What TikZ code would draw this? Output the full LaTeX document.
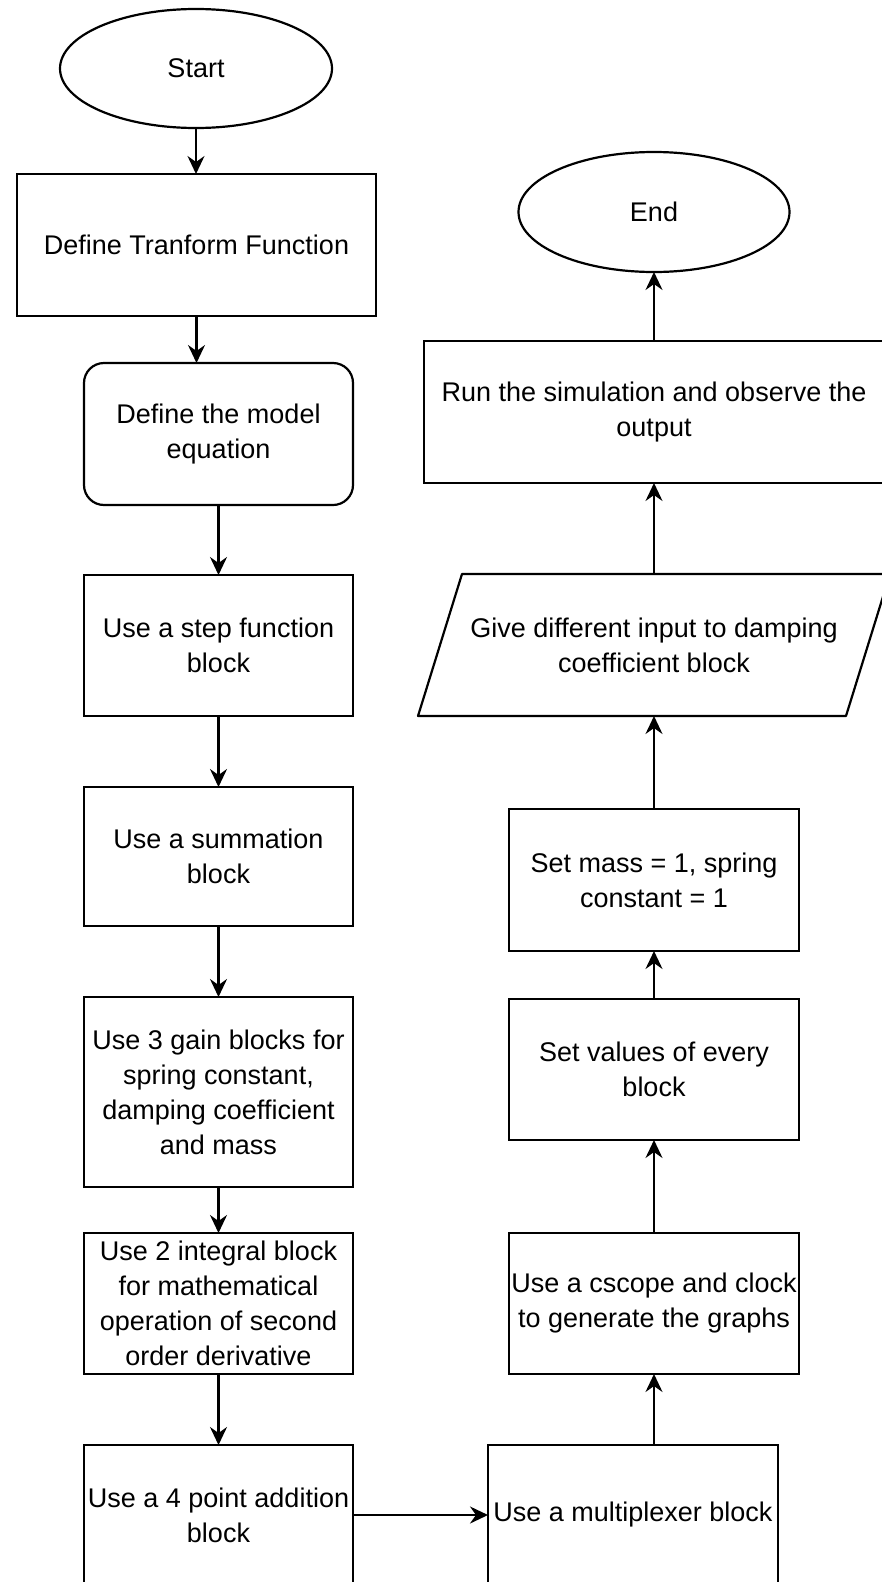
\documentclass[tikz,border=0pt]{standalone}
\usepackage{fontspec}
\setmainfont{Liberation Sans}
\usetikzlibrary{shapes.geometric,arrows.meta,calc}
\begin{document}
\begin{tikzpicture}[x=1pt,y=-1pt,
  every node/.style={font=\fontsize{27}{35}\selectfont, align=center, inner sep=0pt, outer sep=0pt},
  box/.style={draw, line width=2.2pt, rectangle},
  rbox/.style={draw, line width=2.2pt, rectangle, rounded corners=20pt},
  oval/.style={draw, line width=2.2pt, ellipse},
  arr/.style={line width=2.2pt, -{Stealth[length=18pt,width=17pt,inset=6pt]}}
]
\clip (0,0) rectangle (882,1582);
\fill[white] (0,0) rectangle (882,1582);

% left column
\node[oval, minimum width=272pt, minimum height=119pt] (start) at (196,68.5) {Start};
\node[box, minimum width=359pt, minimum height=142pt] (def) at (196.5,245) {Define Tranform Function};
\node[rbox, minimum width=269pt, minimum height=142pt] (model) at (218.5,434) {Define the model\\equation};
\node[box, minimum width=269pt, minimum height=141pt] (stepb) at (218.5,645.5) {Use a step function\\block};
\node[box, minimum width=269pt, minimum height=139pt] (sum) at (218.5,856.5) {Use a summation\\block};
\node[box, minimum width=269pt, minimum height=190pt] (gain) at (218.5,1092) {Use 3 gain blocks for\\spring constant,\\damping coefficient\\and mass};
\node[box, minimum width=269pt, minimum height=141pt] (integ) at (218.5,1303.5) {Use 2 integral block\\for mathematical\\operation of second\\order derivative};
\node[box, minimum width=269pt, minimum height=140pt] (four) at (218.5,1515) {Use a 4 point addition\\block};

% right column
\node[box, minimum width=290pt, minimum height=140pt] (mux) at (633,1515) {Use a multiplexer block};
\node[box, minimum width=290pt, minimum height=141pt] (cs) at (654,1303.5) {Use a cscope and clock\\to generate the graphs};
\node[box, minimum width=290pt, minimum height=141pt] (setv) at (654,1069.5) {Set values of every\\block};
\node[box, minimum width=290pt, minimum height=142pt] (setm) at (654,880) {Set mass = 1, spring\\constant = 1};
\node[minimum width=472pt, minimum height=142pt] (para) at (654,645) {Give different input to damping\\coefficient block};
\draw[line width=2.2pt, line join=round] (para.south west) -- ($(para.north west)+(44,0)$) -- (para.north east) -- ($(para.south east)+(-44,0)$) -- cycle;
\node[box, minimum width=460pt, minimum height=142pt] (run) at (654,412) {Run the simulation and observe the\\output};
\node[oval, minimum width=271pt, minimum height=120pt] (endn) at (654,212) {End};

% connectors
\draw[arr] (start.south) -- (start.south |- def.north);
\draw[arr] (def.south) -- (def.south |- model.north);
\draw[arr] (model.south) -- (stepb.north);
\draw[arr] (stepb.south) -- (sum.north);
\draw[arr] (sum.south) -- (gain.north);
\draw[arr] (gain.south) -- (integ.north);
\draw[arr] (integ.south) -- (four.north);
\draw[arr] (four.east) -- (mux.west);
\draw[arr] (mux.north -| cs.south) -- (cs.south);
\draw[arr] (cs.north) -- (setv.south);
\draw[arr] (setv.north) -- (setm.south);
\draw[arr] (setm.north) -- (para.south);
\draw[arr] (para.north) -- (run.south);
\draw[arr] (run.north) -- (endn.south);
\end{tikzpicture}
\end{document}
